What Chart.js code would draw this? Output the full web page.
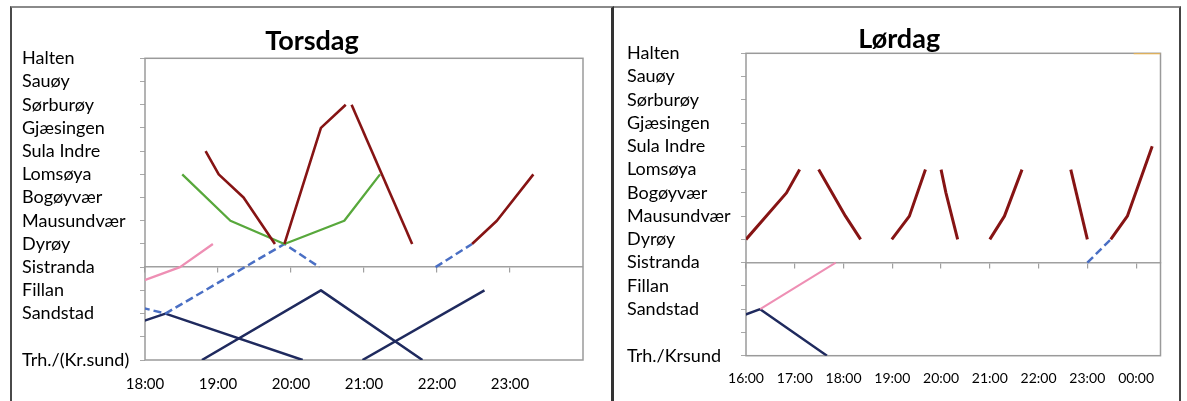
<!DOCTYPE html>
<html><head><meta charset="utf-8">
<script src="https://cdn.jsdelivr.net/npm/chart.js@4.4.1/dist/chart.umd.min.js"></script>
<style>
html,body{margin:0;padding:0;background:#fff;width:1187px;height:401px;overflow:hidden}
.frame{position:absolute;top:6px;height:395px}
#f1{left:10px;width:599px;border-left:2px solid #4a4a4a;border-top:2px solid #8a8a8a;border-right:3px solid #333}
#f2{left:614px;width:565px;border-top:2px solid #8a8a8a;border-right:2px solid #444}
canvas{display:block}
</style></head>
<body>
<div class="frame" id="f1"><canvas id="c1" width="599" height="393"></canvas></div>
<div class="frame" id="f2"><canvas id="c2" width="565" height="393"></canvas></div>
<script>
// ---------- Torsdag ----------
const torsStations = ['Trh./(Kr.sund)', '', 'Sandstad', 'Fillan', 'Sistranda', 'Dyrøy', 'Mausundvær', 'Bogøyvær', 'Lomsøya', 'Sula Indre', 'Gjæsingen', 'Sørburøy', 'Sauøy', 'Halten'];
const torsHours = [18, 19, 20, 21, 22, 23];

const torsRed1Times = [18.83, 19.01, 19.35, 19.78];
const torsRed1Stops = ['Sula Indre', 'Lomsøya', 'Bogøyvær', 'Dyrøy'];
const torsRed2Times = [19.91, 20.41, 20.75];
const torsRed2Stops = ['Dyrøy', 'Gjæsingen', 'Sørburøy'];
const torsRed3Times = [20.83, 21.66];
const torsRed3Stops = ['Sørburøy', 'Dyrøy'];
const torsRed4Times = [22.48, 22.82, 23.32];
const torsRed4Stops = ['Dyrøy', 'Mausundvær', 'Lomsøya'];
const torsGreenTimes = [18.51, 19.17, 19.91, 20.73, 21.22];
const torsGreenStops = ['Lomsøya', 'Mausundvær', 'Dyrøy', 'Mausundvær', 'Lomsøya'];
const torsPinkTimes = [17.61, 18.48, 18.93];
const torsPinkStops = ['Fillan', 'Sistranda', 'Dyrøy'];
const torsDash1Times = [17.0, 18.28, 19.91, 20.39];
const torsDash1Stops = ['Fillan', 'Sandstad', 'Dyrøy', 'Sistranda'];
const torsDash2Times = [21.98, 22.48];
const torsDash2Stops = ['Sistranda', 'Dyrøy'];
const torsNavy1Times = [16.4, 18.28, 20.16];
const torsNavy1Stops = ['Trh./(Kr.sund)', 'Sandstad', 'Trh./(Kr.sund)'];
const torsNavy2Times = [18.78, 20.41, 21.80];
const torsNavy2Stops = ['Trh./(Kr.sund)', 'Fillan', 'Trh./(Kr.sund)'];
const torsNavy3Times = [20.98, 22.65];
const torsNavy3Stops = ['Trh./(Kr.sund)', 'Fillan'];

// ---------- Lørdag ----------
const lorStations = ['Trh./Krsund', '', 'Sandstad', 'Fillan', 'Sistranda', 'Dyrøy', 'Mausundvær', 'Bogøyvær', 'Lomsøya', 'Sula Indre', 'Gjæsingen', 'Sørburøy', 'Sauøy', 'Halten'];
const lorHours = [16, 17, 18, 19, 20, 21, 22, 23, 24];

const lorRed1Times = [16.0, 16.83, 17.1];
const lorRed1Stops = ['Dyrøy', 'Bogøyvær', 'Lomsøya'];
const lorRed2Times = [17.49, 18.04, 18.35];
const lorRed2Stops = ['Lomsøya', 'Mausundvær', 'Dyrøy'];
const lorRed3Times = [18.99, 19.35, 19.68];
const lorRed3Stops = ['Dyrøy', 'Mausundvær', 'Lomsøya'];
const lorRed4Times = [20.0, 20.1, 20.34];
const lorRed4Stops = ['Lomsøya', 'Bogøyvær', 'Dyrøy'];
const lorRed5Times = [21.0, 21.3, 21.66];
const lorRed5Stops = ['Dyrøy', 'Mausundvær', 'Lomsøya'];
const lorRed6Times = [22.66, 23.0];
const lorRed6Stops = ['Lomsøya', 'Dyrøy'];
const lorRed7Times = [23.48, 23.82, 24.33];
const lorRed7Stops = ['Dyrøy', 'Mausundvær', 'Sula Indre'];
const lorDashTimes = [23.0, 23.48];
const lorDashStops = ['Sistranda', 'Dyrøy'];
const lorPinkTimes = [16.29, 17.84];
const lorPinkStops = ['Sandstad', 'Sistranda'];
const lorNavyTimes = [13.7, 16.29, 17.66];
const lorNavyStops = ['Trh./Krsund', 'Sandstad', 'Trh./Krsund'];
const lorOrangeTimes = [23.95, 24.5];
const lorOrangeStops = ['Halten', 'Halten'];

// ---------- styles ----------
const RED = '#861414', GREEN = '#58A83C', PINK = '#EE8FB4', NAVY = '#1F2A5E', BLUE = '#4A6FC4', ORANGE = '#F2B64A';
const FONT = 'Lato, "Open Sans", sans-serif';

function trip(times, stops, stations, color, width, dash) {
  return {
    data: times.map((t, i) => ({ x: t, y: stations.indexOf(stops[i]) })),
    borderColor: color, backgroundColor: color, borderWidth: width,
    borderDash: dash || [], pointRadius: 0, fill: false, tension: 0,
    borderCapStyle: 'butt', borderJoinStyle: 'round'
  };
}
const fmtHour = v => String(v % 24).padStart(2, '0') + ':00';

const framePlugin = {
  id: 'plotFrame',
  afterLayout(chart, args, opts) {
    // left-align the station names at the chart's left margin
    chart.scales.y.left = opts.labelLeft;
  },
  beforeDatasetsDraw(chart, args, opts) {
    const a = chart.chartArea, ctx = chart.ctx;
    ctx.save();
    ctx.strokeStyle = opts.color || '#9a9a9a';
    ctx.lineWidth = 1.5;
    ctx.strokeRect(a.left, a.top, a.right - a.left, a.bottom - a.top);
    ctx.restore();
  }
};

function makeChart(id, cfg) {
  const hourTicks = s => { s.ticks = cfg.hours.map(v => ({ value: v })); };
  new Chart(document.getElementById(id), {
    type: 'line',
    data: { datasets: cfg.datasets },
    plugins: [framePlugin],
    options: {
      responsive: false, animation: false,
      layout: { padding: cfg.padding },
      plugins: {
        legend: { display: false }, tooltip: { enabled: false },
        plotFrame: { color: '#9a9a9a', labelLeft: cfg.labelLeft },
        title: {
          display: true, text: cfg.title, color: '#000',
          font: { family: FONT, size: 27, weight: 'bold', lineHeight: 0.9 },
          padding: cfg.titlePad
        }
      },
      scales: {
        x: {
          type: 'linear', position: 'bottom', min: cfg.xmin, max: cfg.xmax,
          afterBuildTicks: hourTicks,
          ticks: { autoSkip: false, maxRotation: 0, callback: fmtHour,
                   color: '#000', font: { family: FONT, size: cfg.xFont }, padding: cfg.xPad },
          grid: { display: false, drawTicks: false },
          border: { display: false },
          afterFit: s => { s.height = cfg.xHeight; }
        },
        xMid: {
          axis: 'x', type: 'linear', position: { y: 4 }, min: cfg.xmin, max: cfg.xmax,
          afterBuildTicks: hourTicks,
          ticks: { display: false },
          grid: { drawOnChartArea: false, drawTicks: true, tickLength: 5, color: '#a0a0a0', lineWidth: 1.2 },
          border: { display: true, color: '#a0a0a0', width: 1.5 }
        },
        y: {
          type: 'linear', position: 'left', min: 0, max: 13,
          ticks: { stepSize: 1, autoSkip: false, crossAlign: 'far',
                   callback: v => cfg.stations[v], color: '#000',
                   font: { family: FONT, size: 18 } },
          grid: { drawOnChartArea: false, drawTicks: true, tickLength: 5, color: '#a8a8a8', lineWidth: 1 },
          border: { display: false },
          afterFit: s => { s.width = cfg.yWidth; }
        }
      }
    }
  });
}

const S1 = torsStations, S2 = lorStations;
makeChart('c1', {
  title: 'Torsdag', stations: S1, hours: torsHours, xmin: 18, xmax: 24,
  padding: { left: 29, right: 28, top: 0, bottom: 0 }, labelLeft: 10,
  titlePad: { top: 20.8, bottom: 5.2 }, yWidth: 104, xHeight: 41, xFont: 15, xPad: 15,
  datasets: [
    trip(torsRed1Times, torsRed1Stops, S1, RED, 2.6),
    trip(torsRed2Times, torsRed2Stops, S1, RED, 2.6),
    trip(torsRed3Times, torsRed3Stops, S1, RED, 2.6),
    trip(torsRed4Times, torsRed4Stops, S1, RED, 2.6),
    trip(torsGreenTimes, torsGreenStops, S1, GREEN, 2.3),
    trip(torsPinkTimes, torsPinkStops, S1, PINK, 2.3),
    trip(torsDash1Times, torsDash1Stops, S1, BLUE, 2.5, [8, 4]),
    trip(torsDash2Times, torsDash2Stops, S1, BLUE, 2.5, [8, 4]),
    trip(torsNavy1Times, torsNavy1Stops, S1, NAVY, 2.5),
    trip(torsNavy2Times, torsNavy2Stops, S1, NAVY, 2.5),
    trip(torsNavy3Times, torsNavy3Stops, S1, NAVY, 2.5)
  ]
});
makeChart('c2', {
  title: 'Lørdag', stations: S2, hours: lorHours, xmin: 16, xmax: 24.5,
  padding: { left: 24, right: 18.5, top: 0, bottom: 0 }, labelLeft: 13,
  titlePad: { top: 18.9, bottom: 2.1 }, yWidth: 108, xHeight: 45.3, xFont: 14, xPad: 14,
  datasets: [
    trip(lorRed1Times, lorRed1Stops, S2, RED, 3),
    trip(lorRed2Times, lorRed2Stops, S2, RED, 3),
    trip(lorRed3Times, lorRed3Stops, S2, RED, 3),
    trip(lorRed4Times, lorRed4Stops, S2, RED, 3),
    trip(lorRed5Times, lorRed5Stops, S2, RED, 3),
    trip(lorRed6Times, lorRed6Stops, S2, RED, 3),
    trip(lorRed7Times, lorRed7Stops, S2, RED, 3),
    trip(lorDashTimes, lorDashStops, S2, BLUE, 2.5, [8, 4]),
    trip(lorPinkTimes, lorPinkStops, S2, PINK, 2),
    trip(lorNavyTimes, lorNavyStops, S2, NAVY, 2.5),
    trip(lorOrangeTimes, lorOrangeStops, S2, ORANGE, 2)
  ]
});
</script>
</body></html>
